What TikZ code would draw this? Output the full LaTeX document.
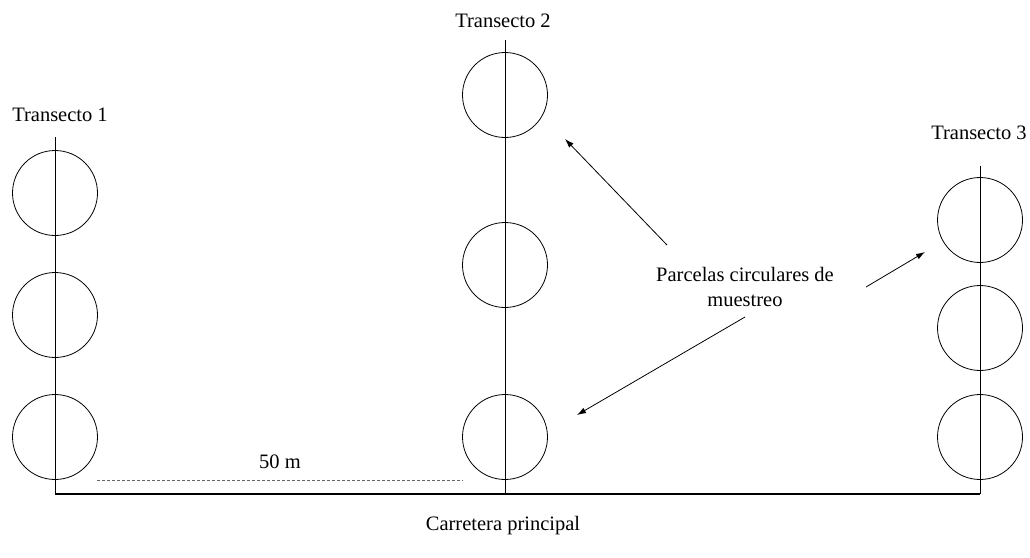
\documentclass[tikz,border=0pt]{standalone}
\usepackage{fontspec}
\setmainfont{Liberation Serif}
\usetikzlibrary{arrows.meta}

\begin{document}
\begin{tikzpicture}[x=1pt,y=-1pt,
        parcela/.style={draw,circle,minimum size=85pt,inner sep=0pt,line width=0.8pt},
        rotulo/.style={font=\fontsize{20.5}{25}\selectfont,inner sep=0pt,align=center},
        flecha/.style={-{Latex[length=9pt,width=6pt]},line width=0.8pt}]
   \useasboundingbox (0,0) rectangle (1030,557);
   % transects and road
   \coordinate (top1) at (55,137);
   \coordinate (top2) at (505,40);
   \coordinate (top3) at (980,166);
   \coordinate (base1) at (55,494);
   \coordinate (base2) at (505,494);
   \coordinate (base3) at (980,494);
   \draw[line width=0.9pt] (top1) -- (base1) (top2) -- (base2) (top3) -- (base3);
   \draw[line width=1.7pt] (base1) -- (base3);
   % plots
   \node[parcela] (p11) at (55,193) {};
   \node[parcela] (p12) at (55,315) {};
   \node[parcela] (p13) at (55,437) {};
   \node[parcela] (p21) at (505,95) {};
   \node[parcela] (p22) at (505,265) {};
   \node[parcela] (p23) at (505,437) {};
   \node[parcela] (p31) at (980,220) {};
   \node[parcela] (p32) at (980,328) {};
   \node[parcela] (p33) at (980,437) {};
   % labels
   \node[rotulo] (t1) at (60,115) {Transecto 1};
   \node[rotulo] (t2) at (503,21) {Transecto 2};
   \node[rotulo] (t3) at (979,133) {Transecto 3};
   \node[rotulo] (parcelas) at (745,287) {Parcelas circulares de\\muestreo};
   \node[rotulo] (dist) at (280,462) {50 m};
   \node[rotulo] (road) at (503,526) {Carretera principal};
   % 50 m
   \coordinate (d1) at (97,480);
   \coordinate (d2) at (463,480);
   \draw[gray!80!black,line width=0.6pt,dash pattern=on 3pt off 2pt] (d1) -- (d2);
   % arrows
   \coordinate (a1) at (667,245);
   \coordinate (b1) at (565,139);
   \coordinate (a2) at (866,287);
   \coordinate (b2) at (925,252);
   \coordinate (a3) at (745,317);
   \coordinate (b3) at (577,415);
   \draw[flecha] (a1) -- (b1);
   \draw[flecha] (a2) -- (b2);
   \draw[flecha] (a3) -- (b3);
\end{tikzpicture}
\end{document}
